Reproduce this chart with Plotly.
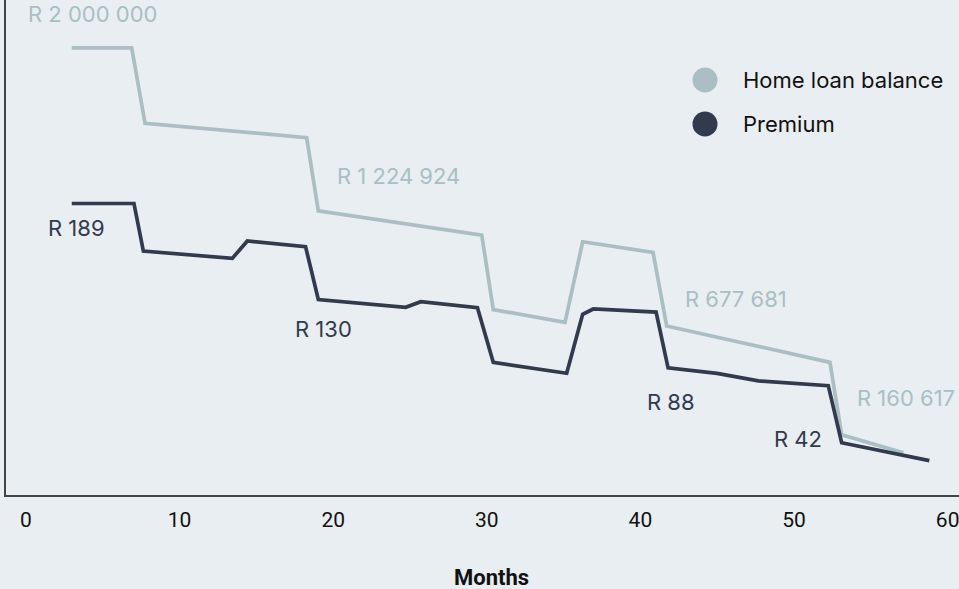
import plotly.graph_objects as go

# ---- data ----
months_balance = [2.98, 6.88, 7.75, 18.27, 19.03, 29.67, 30.42, 35.09, 36.24, 40.82, 41.71, 52.34, 53.10, 57.12]
home_loan_balance = [2000000, 2000000, 1641000, 1573000, 1224924, 1110000, 756000, 695000, 1078000, 1028000,
                     677681, 505000, 160617, 75600]

months_premium = [2.98, 7.03, 7.64, 13.43, 14.41, 18.20, 19.03, 24.72, 25.70, 29.39, 30.42, 35.20, 36.24, 36.93,
                  41.02, 41.80, 44.99, 47.68, 52.23, 53.10, 58.81]
premium = [189, 189, 159.8, 155.3, 166.0, 162.5, 130, 125.2, 128.7, 125.0, 91.4, 84.7, 120.9, 124.2,
           122.3, 88, 84.6, 80.0, 77.1, 42, 31.0]

balance_labels = [(2.98, 2000000, "R 2 000 000"), (19.03, 1224924, "R 1 224 924"),
                  (41.71, 677681, "R 677 681"), (53.10, 160617, "R 160 617")]
premium_labels = [(2.98, 189, "R 189"), (19.03, 130, "R 130"), (41.80, 88, "R 88"), (53.10, 42, "R 42")]

series_names = ["Home loan balance", "Premium"]
x_ticks = [0, 10, 20, 30, 40, 50, 60]
x_title = "Months"

# ---- style ----
LIGHT = "#aabec4"
DARK = "#323a4e"
BG = "#e8eef1"

fig = go.Figure()
fig.add_trace(go.Scatter(x=months_balance, y=home_loan_balance, mode="lines", name=series_names[0],
                         line=dict(color=LIGHT, width=3.7), yaxis="y", showlegend=False))
fig.add_trace(go.Scatter(x=months_premium, y=premium, mode="lines", name=series_names[1],
                         line=dict(color=DARK, width=3.7), yaxis="y2", showlegend=False))

annots = []
bal_shift = [(21, 34), (80, 35), (69, 27), (64, 37)]
for (x, y, t), (dx, dy) in zip(balance_labels, bal_shift):
    annots.append(dict(x=x, y=y, xref="x", yref="y", text=t, showarrow=False, xshift=dx, yshift=dy,
                       font=dict(family="Inter", size=22, color=LIGHT)))
prem_shift = [(5, -24), (5, -29), (3, -34), (-44, 4)]
for (x, y, t), (dx, dy) in zip(premium_labels, prem_shift):
    annots.append(dict(x=x, y=y, xref="x", yref="y2", text=t, showarrow=False,
                       xshift=dx, yshift=dy, font=dict(family="Inter", size=22, color=DARK)))

# legend (drawn manually to get the large circles)
plot_l, plot_r, plot_b = 6, 959, 495
def px_x(p):
    return (p - plot_l) / (plot_r - plot_l)
def px_y(p):
    return (plot_b - p) / plot_b

shapes = []
for cy, col, name in [(80, LIGHT, series_names[0]), (124, DARK, series_names[1])]:
    shapes.append(dict(type="circle", xref="paper", yref="paper", xsizemode="pixel", ysizemode="pixel",
                       xanchor=px_x(705), yanchor=px_y(cy), x0=-12.5, x1=12.5, y0=-12.5, y1=12.5,
                       fillcolor=col, line=dict(width=0)))
    annots.append(dict(x=px_x(741), y=px_y(cy), xref="paper", yref="paper", text=name, showarrow=False,
                       xanchor="left", yanchor="middle", font=dict(family="Inter", size=22, color="#111111")))

# x-axis title placed near the bottom edge
annots.append(dict(x=px_x(491.5), y=px_y(577), xref="paper", yref="paper", text="<b>%s</b>" % x_title,
                   showarrow=False, xanchor="center", yanchor="middle",
                   font=dict(family="Roboto", size=22, color="#111111")))

fig.update_layout(
    width=959, height=589,
    margin=dict(l=plot_l, r=959 - plot_r, t=0, b=589 - plot_b),
    paper_bgcolor=BG, plot_bgcolor=BG,
    showlegend=False,
    annotations=annots, shapes=shapes,
    xaxis=dict(range=[-1.302, 60.74], tickvals=x_ticks, ticktext=[str(v) for v in x_ticks],
               showgrid=False, zeroline=False, showline=True, linecolor="#444444", linewidth=1.5,
               ticks="outside", ticklen=5, tickcolor="rgba(0,0,0,0)", ticklabeloverflow="allow",
               automargin=False,
               tickfont=dict(family="Roboto", size=21, color="#111111")),
    yaxis=dict(range=[-125500, 2227200], showgrid=False, zeroline=False, showticklabels=False,
               showline=True, linecolor="#444444", linewidth=1.5, automargin=False),
    yaxis2=dict(range=[9.9, 314.05], overlaying="y", showgrid=False, zeroline=False,
                showticklabels=False, showline=False, automargin=False),
)

fig.write_html("out.html")
